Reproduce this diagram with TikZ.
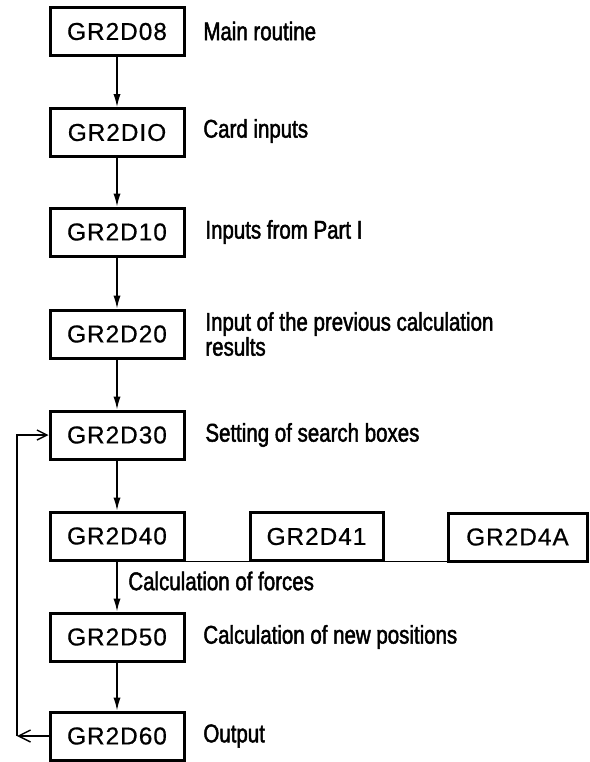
\documentclass[tikz,border=0pt]{standalone}
\usepackage{fontspec}
\setmainfont{Liberation Sans}
\newfontfamily\progfont[LetterSpace=4,FakeBold=0.6]{Liberation Sans}
\newfontfamily\notefont[FakeStretch=0.8,FakeBold=1.8]{Liberation Sans}
\usetikzlibrary{arrows.meta,positioning}

\begin{document}
\begin{tikzpicture}[x=0.5pt,y=-0.5pt,>=Latex,
    prog/.style={draw,line width=1.5pt,minimum width=67pt,minimum height=24pt,
      inner sep=0pt,font=\progfont\fontsize{12.2}{14}\selectfont},
    note/.style={anchor=west,inner sep=0pt,align=left,
      font=\notefont\fontsize{12.8}{12.5}\selectfont},
    flow/.style={->,line width=0.7pt,>={Latex[length=6.5pt,width=3.6pt]}},
    back/.style={->,line width=0.7pt,>={Straight Barb[length=5pt,width=5pt]}}]
  \useasboundingbox (0,0) rectangle (590,762);
  % main chain
  \node[prog] (g08) at (117,31.5) {GR2D08};
  \node[prog] (g0io) at (117,132.5) {GR2DIO};
  \node[prog] (g10) at (117,232) {GR2D10};
  \node[prog] (g20) at (117,334) {GR2D20};
  \node[prog] (g30) at (117,435) {GR2D30};
  \node[prog] (g40) at (117,536) {GR2D40};
  \node[prog,minimum width=66.5pt] (g41) at (316.5,536.5) {GR2D41};
  \node[prog,minimum width=69.5pt] (g4a) at (517.5,537) {GR2D4A};
  \node[prog] (g50) at (117,637) {GR2D50};
  \node[prog] (g60) at (117,736) {GR2D60};
  % notes
  \node[note] (n08) at (203,31) {Main routine};
  \node[note] (n0io) at (203,131) {Card inputs};
  \node[note] (n10) at (205,232) {Inputs from Part I};
  \node[note] (n20) at (205,334) {Input of the previous calculation\\results};
  \node[note] (n30) at (205,435) {Setting of search boxes};
  \node[note] (n40) at (128,581) {Calculation of forces};
  \node[note] (n50) at (203,637) {Calculation of new positions};
  \node[note] (n60) at (203,736) {Output};
  % connectors
  \draw[flow] (g08) -- (g0io);
  \draw[flow] (g0io) -- (g10);
  \draw[flow] (g10) -- (g20);
  \draw[flow] (g20) -- (g30);
  \draw[flow] (g30) -- (g40);
  \draw[flow] (g40) -- (g50);
  \draw[flow] (g50) -- (g60);
  \draw[line width=0.7pt] (g40.south east) -- (g4a.south west |- g40.south);
  \coordinate (loop) at (17,736);
  \draw[back,>={Straight Barb[length=6pt,width=6pt]}] (g60.west) -- (loop);
  \draw[back] (loop) |- (g30.west);
\end{tikzpicture}
\end{document}
